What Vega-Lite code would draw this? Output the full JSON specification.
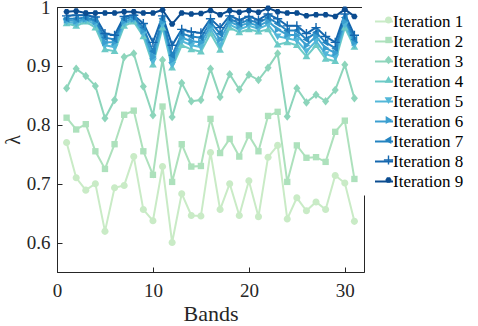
{
"$schema": "https://vega.github.io/schema/vega-lite/v6.json",
"width": 307, "height": 265,
"autosize": "none",
"padding": {"left": 57, "top": 7, "right": 114, "bottom": 54},
"background": "white",
"config": {"view": {"stroke": "#262626", "strokeWidth": 1}, "font": "Times New Roman, Liberation Serif, DejaVu Serif, serif",
  "axis": {"labelFont": "Times New Roman, Liberation Serif, DejaVu Serif, serif", "titleFont": "Times New Roman, Liberation Serif, DejaVu Serif, serif"},
  "legend": {"orient": "none", "legendY": -1.5, "title": null, "padding": 6, "labelFont": "Times New Roman, Liberation Serif, DejaVu Serif, serif", "labelFontSize": 17, "labelColor": "#000000"}},
"data": {"values": [
{"band":1,"series":"Iteration 1","lambda":0.770},{"band":2,"series":"Iteration 1","lambda":0.710},{"band":3,"series":"Iteration 1","lambda":0.689},{"band":4,"series":"Iteration 1","lambda":0.700},{"band":5,"series":"Iteration 1","lambda":0.619},{"band":6,"series":"Iteration 1","lambda":0.693},{"band":7,"series":"Iteration 1","lambda":0.697},{"band":8,"series":"Iteration 1","lambda":0.746},{"band":9,"series":"Iteration 1","lambda":0.656},{"band":10,"series":"Iteration 1","lambda":0.637},{"band":11,"series":"Iteration 1","lambda":0.729},{"band":12,"series":"Iteration 1","lambda":0.600},{"band":13,"series":"Iteration 1","lambda":0.683},{"band":14,"series":"Iteration 1","lambda":0.646},{"band":15,"series":"Iteration 1","lambda":0.645},{"band":16,"series":"Iteration 1","lambda":0.753},{"band":17,"series":"Iteration 1","lambda":0.656},{"band":18,"series":"Iteration 1","lambda":0.700},{"band":19,"series":"Iteration 1","lambda":0.646},{"band":20,"series":"Iteration 1","lambda":0.705},{"band":21,"series":"Iteration 1","lambda":0.644},{"band":22,"series":"Iteration 1","lambda":0.745},{"band":23,"series":"Iteration 1","lambda":0.765},{"band":24,"series":"Iteration 1","lambda":0.640},{"band":25,"series":"Iteration 1","lambda":0.676},{"band":26,"series":"Iteration 1","lambda":0.654},{"band":27,"series":"Iteration 1","lambda":0.669},{"band":28,"series":"Iteration 1","lambda":0.656},{"band":29,"series":"Iteration 1","lambda":0.714},{"band":30,"series":"Iteration 1","lambda":0.701},{"band":31,"series":"Iteration 1","lambda":0.636},
{"band":1,"series":"Iteration 2","lambda":0.812},{"band":2,"series":"Iteration 2","lambda":0.792},{"band":3,"series":"Iteration 2","lambda":0.801},{"band":4,"series":"Iteration 2","lambda":0.755},{"band":5,"series":"Iteration 2","lambda":0.725},{"band":6,"series":"Iteration 2","lambda":0.767},{"band":7,"series":"Iteration 2","lambda":0.817},{"band":8,"series":"Iteration 2","lambda":0.824},{"band":9,"series":"Iteration 2","lambda":0.755},{"band":10,"series":"Iteration 2","lambda":0.715},{"band":11,"series":"Iteration 2","lambda":0.831},{"band":12,"series":"Iteration 2","lambda":0.703},{"band":13,"series":"Iteration 2","lambda":0.767},{"band":14,"series":"Iteration 2","lambda":0.729},{"band":15,"series":"Iteration 2","lambda":0.730},{"band":16,"series":"Iteration 2","lambda":0.810},{"band":17,"series":"Iteration 2","lambda":0.752},{"band":18,"series":"Iteration 2","lambda":0.776},{"band":19,"series":"Iteration 2","lambda":0.746},{"band":20,"series":"Iteration 2","lambda":0.782},{"band":21,"series":"Iteration 2","lambda":0.755},{"band":22,"series":"Iteration 2","lambda":0.815},{"band":23,"series":"Iteration 2","lambda":0.822},{"band":24,"series":"Iteration 2","lambda":0.703},{"band":25,"series":"Iteration 2","lambda":0.765},{"band":26,"series":"Iteration 2","lambda":0.744},{"band":27,"series":"Iteration 2","lambda":0.745},{"band":28,"series":"Iteration 2","lambda":0.737},{"band":29,"series":"Iteration 2","lambda":0.788},{"band":30,"series":"Iteration 2","lambda":0.807},{"band":31,"series":"Iteration 2","lambda":0.708},
{"band":1,"series":"Iteration 3","lambda":0.862},{"band":2,"series":"Iteration 3","lambda":0.895},{"band":3,"series":"Iteration 3","lambda":0.883},{"band":4,"series":"Iteration 3","lambda":0.866},{"band":5,"series":"Iteration 3","lambda":0.811},{"band":6,"series":"Iteration 3","lambda":0.842},{"band":7,"series":"Iteration 3","lambda":0.915},{"band":8,"series":"Iteration 3","lambda":0.921},{"band":9,"series":"Iteration 3","lambda":0.865},{"band":10,"series":"Iteration 3","lambda":0.816},{"band":11,"series":"Iteration 3","lambda":0.910},{"band":12,"series":"Iteration 3","lambda":0.813},{"band":13,"series":"Iteration 3","lambda":0.871},{"band":14,"series":"Iteration 3","lambda":0.840},{"band":15,"series":"Iteration 3","lambda":0.842},{"band":16,"series":"Iteration 3","lambda":0.895},{"band":17,"series":"Iteration 3","lambda":0.847},{"band":18,"series":"Iteration 3","lambda":0.886},{"band":19,"series":"Iteration 3","lambda":0.860},{"band":20,"series":"Iteration 3","lambda":0.885},{"band":21,"series":"Iteration 3","lambda":0.876},{"band":22,"series":"Iteration 3","lambda":0.897},{"band":23,"series":"Iteration 3","lambda":0.921},{"band":24,"series":"Iteration 3","lambda":0.814},{"band":25,"series":"Iteration 3","lambda":0.862},{"band":26,"series":"Iteration 3","lambda":0.838},{"band":27,"series":"Iteration 3","lambda":0.851},{"band":28,"series":"Iteration 3","lambda":0.840},{"band":29,"series":"Iteration 3","lambda":0.859},{"band":30,"series":"Iteration 3","lambda":0.902},{"band":31,"series":"Iteration 3","lambda":0.845},
{"band":1,"series":"Iteration 4","lambda":0.972},{"band":2,"series":"Iteration 4","lambda":0.968},{"band":3,"series":"Iteration 4","lambda":0.975},{"band":4,"series":"Iteration 4","lambda":0.965},{"band":5,"series":"Iteration 4","lambda":0.928},{"band":6,"series":"Iteration 4","lambda":0.925},{"band":7,"series":"Iteration 4","lambda":0.968},{"band":8,"series":"Iteration 4","lambda":0.975},{"band":9,"series":"Iteration 4","lambda":0.950},{"band":10,"series":"Iteration 4","lambda":0.902},{"band":11,"series":"Iteration 4","lambda":0.965},{"band":12,"series":"Iteration 4","lambda":0.897},{"band":13,"series":"Iteration 4","lambda":0.935},{"band":14,"series":"Iteration 4","lambda":0.928},{"band":15,"series":"Iteration 4","lambda":0.924},{"band":16,"series":"Iteration 4","lambda":0.955},{"band":17,"series":"Iteration 4","lambda":0.927},{"band":18,"series":"Iteration 4","lambda":0.965},{"band":19,"series":"Iteration 4","lambda":0.957},{"band":20,"series":"Iteration 4","lambda":0.962},{"band":21,"series":"Iteration 4","lambda":0.958},{"band":22,"series":"Iteration 4","lambda":0.962},{"band":23,"series":"Iteration 4","lambda":0.936},{"band":24,"series":"Iteration 4","lambda":0.940},{"band":25,"series":"Iteration 4","lambda":0.935},{"band":26,"series":"Iteration 4","lambda":0.916},{"band":27,"series":"Iteration 4","lambda":0.935},{"band":28,"series":"Iteration 4","lambda":0.912},{"band":29,"series":"Iteration 4","lambda":0.908},{"band":30,"series":"Iteration 4","lambda":0.965},{"band":31,"series":"Iteration 4","lambda":0.932},
{"band":1,"series":"Iteration 5","lambda":0.975},{"band":2,"series":"Iteration 5","lambda":0.972},{"band":3,"series":"Iteration 5","lambda":0.978},{"band":4,"series":"Iteration 5","lambda":0.970},{"band":5,"series":"Iteration 5","lambda":0.935},{"band":6,"series":"Iteration 5","lambda":0.932},{"band":7,"series":"Iteration 5","lambda":0.972},{"band":8,"series":"Iteration 5","lambda":0.978},{"band":9,"series":"Iteration 5","lambda":0.955},{"band":10,"series":"Iteration 5","lambda":0.908},{"band":11,"series":"Iteration 5","lambda":0.970},{"band":12,"series":"Iteration 5","lambda":0.902},{"band":13,"series":"Iteration 5","lambda":0.942},{"band":14,"series":"Iteration 5","lambda":0.935},{"band":15,"series":"Iteration 5","lambda":0.932},{"band":16,"series":"Iteration 5","lambda":0.962},{"band":17,"series":"Iteration 5","lambda":0.935},{"band":18,"series":"Iteration 5","lambda":0.970},{"band":19,"series":"Iteration 5","lambda":0.962},{"band":20,"series":"Iteration 5","lambda":0.968},{"band":21,"series":"Iteration 5","lambda":0.963},{"band":22,"series":"Iteration 5","lambda":0.970},{"band":23,"series":"Iteration 5","lambda":0.950},{"band":24,"series":"Iteration 5","lambda":0.947},{"band":25,"series":"Iteration 5","lambda":0.943},{"band":26,"series":"Iteration 5","lambda":0.925},{"band":27,"series":"Iteration 5","lambda":0.942},{"band":28,"series":"Iteration 5","lambda":0.920},{"band":29,"series":"Iteration 5","lambda":0.915},{"band":30,"series":"Iteration 5","lambda":0.970},{"band":31,"series":"Iteration 5","lambda":0.936},
{"band":1,"series":"Iteration 6","lambda":0.978},{"band":2,"series":"Iteration 6","lambda":0.976},{"band":3,"series":"Iteration 6","lambda":0.980},{"band":4,"series":"Iteration 6","lambda":0.975},{"band":5,"series":"Iteration 6","lambda":0.940},{"band":6,"series":"Iteration 6","lambda":0.940},{"band":7,"series":"Iteration 6","lambda":0.976},{"band":8,"series":"Iteration 6","lambda":0.980},{"band":9,"series":"Iteration 6","lambda":0.960},{"band":10,"series":"Iteration 6","lambda":0.915},{"band":11,"series":"Iteration 6","lambda":0.975},{"band":12,"series":"Iteration 6","lambda":0.910},{"band":13,"series":"Iteration 6","lambda":0.948},{"band":14,"series":"Iteration 6","lambda":0.942},{"band":15,"series":"Iteration 6","lambda":0.940},{"band":16,"series":"Iteration 6","lambda":0.968},{"band":17,"series":"Iteration 6","lambda":0.945},{"band":18,"series":"Iteration 6","lambda":0.975},{"band":19,"series":"Iteration 6","lambda":0.968},{"band":20,"series":"Iteration 6","lambda":0.973},{"band":21,"series":"Iteration 6","lambda":0.968},{"band":22,"series":"Iteration 6","lambda":0.976},{"band":23,"series":"Iteration 6","lambda":0.962},{"band":24,"series":"Iteration 6","lambda":0.953},{"band":25,"series":"Iteration 6","lambda":0.952},{"band":26,"series":"Iteration 6","lambda":0.935},{"band":27,"series":"Iteration 6","lambda":0.950},{"band":28,"series":"Iteration 6","lambda":0.930},{"band":29,"series":"Iteration 6","lambda":0.922},{"band":30,"series":"Iteration 6","lambda":0.976},{"band":31,"series":"Iteration 6","lambda":0.940},
{"band":1,"series":"Iteration 7","lambda":0.980},{"band":2,"series":"Iteration 7","lambda":0.980},{"band":3,"series":"Iteration 7","lambda":0.982},{"band":4,"series":"Iteration 7","lambda":0.978},{"band":5,"series":"Iteration 7","lambda":0.948},{"band":6,"series":"Iteration 7","lambda":0.945},{"band":7,"series":"Iteration 7","lambda":0.980},{"band":8,"series":"Iteration 7","lambda":0.983},{"band":9,"series":"Iteration 7","lambda":0.965},{"band":10,"series":"Iteration 7","lambda":0.925},{"band":11,"series":"Iteration 7","lambda":0.980},{"band":12,"series":"Iteration 7","lambda":0.918},{"band":13,"series":"Iteration 7","lambda":0.955},{"band":14,"series":"Iteration 7","lambda":0.950},{"band":15,"series":"Iteration 7","lambda":0.948},{"band":16,"series":"Iteration 7","lambda":0.974},{"band":17,"series":"Iteration 7","lambda":0.955},{"band":18,"series":"Iteration 7","lambda":0.980},{"band":19,"series":"Iteration 7","lambda":0.972},{"band":20,"series":"Iteration 7","lambda":0.978},{"band":21,"series":"Iteration 7","lambda":0.973},{"band":22,"series":"Iteration 7","lambda":0.982},{"band":23,"series":"Iteration 7","lambda":0.972},{"band":24,"series":"Iteration 7","lambda":0.960},{"band":25,"series":"Iteration 7","lambda":0.960},{"band":26,"series":"Iteration 7","lambda":0.945},{"band":27,"series":"Iteration 7","lambda":0.957},{"band":28,"series":"Iteration 7","lambda":0.940},{"band":29,"series":"Iteration 7","lambda":0.930},{"band":30,"series":"Iteration 7","lambda":0.982},{"band":31,"series":"Iteration 7","lambda":0.945},
{"band":1,"series":"Iteration 8","lambda":0.985},{"band":2,"series":"Iteration 8","lambda":0.986},{"band":3,"series":"Iteration 8","lambda":0.986},{"band":4,"series":"Iteration 8","lambda":0.983},{"band":5,"series":"Iteration 8","lambda":0.955},{"band":6,"series":"Iteration 8","lambda":0.952},{"band":7,"series":"Iteration 8","lambda":0.984},{"band":8,"series":"Iteration 8","lambda":0.986},{"band":9,"series":"Iteration 8","lambda":0.972},{"band":10,"series":"Iteration 8","lambda":0.940},{"band":11,"series":"Iteration 8","lambda":0.985},{"band":12,"series":"Iteration 8","lambda":0.935},{"band":13,"series":"Iteration 8","lambda":0.962},{"band":14,"series":"Iteration 8","lambda":0.958},{"band":15,"series":"Iteration 8","lambda":0.956},{"band":16,"series":"Iteration 8","lambda":0.980},{"band":17,"series":"Iteration 8","lambda":0.965},{"band":18,"series":"Iteration 8","lambda":0.985},{"band":19,"series":"Iteration 8","lambda":0.978},{"band":20,"series":"Iteration 8","lambda":0.984},{"band":21,"series":"Iteration 8","lambda":0.978},{"band":22,"series":"Iteration 8","lambda":0.988},{"band":23,"series":"Iteration 8","lambda":0.980},{"band":24,"series":"Iteration 8","lambda":0.968},{"band":25,"series":"Iteration 8","lambda":0.968},{"band":26,"series":"Iteration 8","lambda":0.955},{"band":27,"series":"Iteration 8","lambda":0.965},{"band":28,"series":"Iteration 8","lambda":0.950},{"band":29,"series":"Iteration 8","lambda":0.940},{"band":30,"series":"Iteration 8","lambda":0.988},{"band":31,"series":"Iteration 8","lambda":0.952},
{"band":1,"series":"Iteration 9","lambda":0.992},{"band":2,"series":"Iteration 9","lambda":0.993},{"band":3,"series":"Iteration 9","lambda":0.990},{"band":4,"series":"Iteration 9","lambda":0.990},{"band":5,"series":"Iteration 9","lambda":0.990},{"band":6,"series":"Iteration 9","lambda":0.990},{"band":7,"series":"Iteration 9","lambda":0.992},{"band":8,"series":"Iteration 9","lambda":0.992},{"band":9,"series":"Iteration 9","lambda":0.990},{"band":10,"series":"Iteration 9","lambda":0.990},{"band":11,"series":"Iteration 9","lambda":0.995},{"band":12,"series":"Iteration 9","lambda":0.971},{"band":13,"series":"Iteration 9","lambda":0.990},{"band":14,"series":"Iteration 9","lambda":0.988},{"band":15,"series":"Iteration 9","lambda":0.989},{"band":16,"series":"Iteration 9","lambda":0.994},{"band":17,"series":"Iteration 9","lambda":0.987},{"band":18,"series":"Iteration 9","lambda":0.994},{"band":19,"series":"Iteration 9","lambda":0.991},{"band":20,"series":"Iteration 9","lambda":0.994},{"band":21,"series":"Iteration 9","lambda":0.991},{"band":22,"series":"Iteration 9","lambda":0.998},{"band":23,"series":"Iteration 9","lambda":0.992},{"band":24,"series":"Iteration 9","lambda":0.990},{"band":25,"series":"Iteration 9","lambda":0.990},{"band":26,"series":"Iteration 9","lambda":0.985},{"band":27,"series":"Iteration 9","lambda":0.987},{"band":28,"series":"Iteration 9","lambda":0.987},{"band":29,"series":"Iteration 9","lambda":0.984},{"band":30,"series":"Iteration 9","lambda":0.996},{"band":31,"series":"Iteration 9","lambda":0.984}
]},
"layer": [
 {"mark": {"type": "line", "strokeWidth": 2},
  "encoding": {
   "x": {"field": "band", "type": "quantitative", "scale": {"domain": [0, 32], "nice": false},
         "axis": {"values": [0, 10, 20, 30], "title": "Bands", "grid": false, "tickSize": -5, "labelPadding": 14, "labelFontSize": 19, "labelColor": "#262626", "titleFontSize": 22, "titleFontWeight": "normal", "titleColor": "#262626", "titlePadding": 3, "domainColor": "#262626", "tickColor": "#262626", "labelFlush": false}},
   "y": {"field": "lambda", "type": "quantitative", "scale": {"domain": [0.55, 1], "nice": false, "zero": false},
         "axis": {"values": [0.6, 0.7, 0.8, 0.9, 1], "format": "~g", "title": "λ", "grid": false, "tickSize": -5, "labelPadding": 12, "labelFontSize": 19, "labelColor": "#262626", "titleFontSize": 20, "titleFontWeight": "normal", "titleColor": "#262626", "titlePadding": 3, "domainColor": "#262626", "tickColor": "#262626", "labelFlush": false}},
   "color": {"field": "series", "type": "nominal",
     "scale": {"domain": ["Iteration 1","Iteration 2","Iteration 3","Iteration 4","Iteration 5","Iteration 6","Iteration 7","Iteration 8","Iteration 9"],
               "range": ["#c9ebc6","#ade1bc","#8dd5bb","#6ccac6","#52b7d8","#3b9fd0","#2383c0","#1467ae","#0b4c90"]},
     "legend": {"legendX": 305, "symbolOffset": 6, "symbolType": "stroke", "symbolSize": 324, "symbolStrokeWidth": 2, "fillColor": "white", "labelOffset": -1, "rowPadding": 2}}
  }},
 {"mark": {"type": "point", "filled": true, "size": 50, "opacity": 1},
  "encoding": {
   "x": {"field": "band", "type": "quantitative"},
   "y": {"field": "lambda", "type": "quantitative"},
   "color": {"field": "series", "type": "nominal",
     "legend": {"legendX": 317, "symbolSize": 50, "symbolStrokeWidth": 0, "labelOpacity": 0, "labelExpr": "' '", "labelOffset": 1, "rowPadding": 2}},
   "shape": {"field": "series", "type": "nominal",
     "legend": {"legendX": 317, "symbolSize": 50, "symbolStrokeWidth": 0, "labelOpacity": 0, "labelExpr": "' '", "labelOffset": 1, "rowPadding": 2},
     "scale": {"domain": ["Iteration 1","Iteration 2","Iteration 3","Iteration 4","Iteration 5","Iteration 6","Iteration 7","Iteration 8","Iteration 9"],
               "range": ["M1,0A1,1,0,1,1,-1,0A1,1,0,1,1,1,0Z","M-0.9,-0.9H0.9V0.9H-0.9Z","M0,-1.2L1,0L0,1.2L-1,0Z","M0,-1.1L1.1,0.8L-1.1,0.8Z","M0,1.1L1.1,-0.8L-1.1,-0.8Z","M1.1,0L-0.8,-1.1L-0.8,1.1Z","M-1.1,0L0.8,-1.1L0.8,1.1Z","M-1.3,-0.2H-0.2V-1.3H0.2V-0.2H1.3V0.2H0.2V1.3H-0.2V0.2H-1.3Z","M0.9,0L0.45,0.78L-0.45,0.78L-0.9,0L-0.45,-0.78L0.45,-0.78Z"]}}
  }}
],
"resolve": {"legend": {"color": "independent", "shape": "independent"}}
}
